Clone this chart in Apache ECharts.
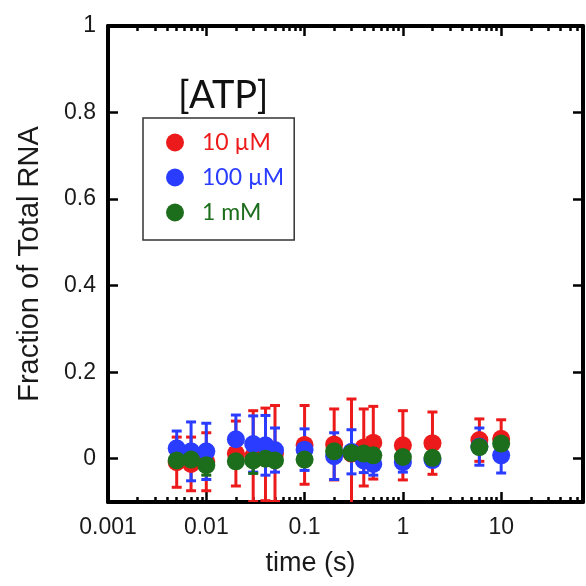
<!DOCTYPE html>
<html>
<head>
<meta charset="utf-8">
<script src="https://cdn.jsdelivr.net/npm/echarts@6/dist/echarts.min.js"></script>
<style>
	html, body { margin: 0; padding: 0; background: #fff; }
	#atpChartContainer { width: 586px; height: 586px; }
</style>
</head>
<body>
<div id="atpChartContainer"></div>
<script>
// time points (s)
var times = [0.005, 0.007, 0.01, 0.02, 0.03, 0.04, 0.05, 0.1, 0.2, 0.3, 0.4, 0.5, 1, 2, 6, 10];

// 10 uM ATP
var red10uM = [-0.008, -0.012, -0.007, 0.012, 0.006, 0.010, 0.012, 0.032, 0.033, 0.012, 0.026, 0.037, 0.031, 0.036, 0.043, 0.046];
var red10uMErr = [0.058, 0.062, 0.067, 0.075, 0.105, 0.107, 0.111, 0.091, 0.082, 0.126, 0.089, 0.084, 0.080, 0.072, 0.049, 0.044];

// 100 uM ATP
var blue100uM = [0.024, 0.017, 0.017, 0.045, 0.034, 0.031, 0.020, 0.021, 0.006, 0.016, -0.004, -0.012, -0.008, -0.003, 0.028, 0.008];
var blue100uMErr = [0.040, 0.068, 0.065, 0.056, 0.065, 0.069, 0.051, 0.048, 0.054, 0.051, 0.028, 0.026, 0.023, 0.012, 0.043, 0.041];

// 1 mM ATP
var green1mM = [-0.004, -0.002, -0.015, -0.006, -0.004, 0.000, -0.004, -0.002, 0.017, 0.013, 0.012, 0.008, 0.004, 0.002, 0.027, 0.035];
var green1mMErr = [0.012, 0.010, 0.023, 0.014, 0.030, 0.011, 0.012, 0.010, 0.012, 0.011, 0.010, 0.011, 0.010, 0.010, 0.012, 0.010];

var seriesNames = ['10 \u00b5M', '100 \u00b5M', '1 mM'];
var seriesColors = ['#ec1a1a', '#2a3cff', '#1c6d1c'];

function pairs(ys) {
	return times.map(function (t, i) { return [t, ys[i]]; });
}

function errTriples(ys, es) {
	return times.map(function (t, i) { return [t, ys[i] - es[i], ys[i] + es[i]]; });
}

// vertical error bar with caps
function renderErrorBar(params, api) {
	var lo = api.coord([api.value(0), api.value(1)]);
	var hi = api.coord([api.value(0), api.value(2)]);
	var cap = 5;
	var style = { stroke: api.visual('color'), lineWidth: 3 };
	return {
		type: 'group',
		children: [
			{ type: 'line', shape: { x1: lo[0], y1: lo[1], x2: hi[0], y2: hi[1] }, style: style },
			{ type: 'line', shape: { x1: lo[0] - cap, y1: lo[1], x2: lo[0] + cap, y2: lo[1] }, style: style },
			{ type: 'line', shape: { x1: hi[0] - cap, y1: hi[1], x2: hi[0] + cap, y2: hi[1] }, style: style }
		]
	};
}

var chartContainer = echarts.init(document.getElementById('atpChartContainer'));

var means = [red10uM, blue100uM, green1mM];
var errs = [red10uMErr, blue100uMErr, green1mMErr];
var series = [];
for (var i = 0; i < 3; i++) {
	series.push({
		name: seriesNames[i] + ' err',
		type: 'custom',
		clip: true,
		itemStyle: { color: seriesColors[i] },
		renderItem: renderErrorBar,
		encode: { x: 0, y: [1, 2] },
		data: errTriples(means[i], errs[i])
	});
	series.push({
		name: seriesNames[i],
		type: 'scatter',
		symbolSize: 18,
		itemStyle: { color: seriesColors[i], opacity: 1 },
		data: pairs(means[i])
	});
}

chartContainer.setOption({
	animation: false,
	title: {
		text: '[ATP]',
		left: 173,
		top: 72,
		textStyle: { fontFamily: 'Lato', fontSize: 38, fontWeight: 'normal', color: '#111' }
	},
	legend: {
		orient: 'vertical',
		left: 143,
		top: 118,
		padding: [13, 10, 16, 23],
		itemGap: 12,
		itemWidth: 18,
		itemHeight: 18,
		borderColor: '#333',
		borderWidth: 1.5,
		textStyle: { fontFamily: 'Lato', fontSize: 23, lineHeight: 18, padding: [0, 0, 0, 13] },
		data: seriesNames.map(function (n, k) {
			return { name: n, icon: 'circle', itemStyle: { color: seriesColors[k] }, textStyle: { color: seriesColors[k] } };
		})
	},
	grid: { left: 108, right: 3, top: 26, bottom: 84 },
	xAxis: [
		{
			type: 'log', min: 0.001, max: 68, position: 'bottom',
			axisLine: { onZero: false, lineStyle: { color: '#000', width: 4 } },
			axisTick: { show: true, inside: true, length: 10, lineStyle: { color: '#000', width: 2.5 } },
			minorTick: { show: true, splitNumber: 9, length: 5, lineStyle: { color: '#000', width: 2.5 } },
			axisLabel: { showMaxLabel: false, margin: 14, fontFamily: 'Liberation Sans', fontSize: 23, color: '#1a1a1a' },
			splitLine: { show: false },
			name: 'time (s)', nameLocation: 'middle', nameGap: 48,
			nameTextStyle: { fontFamily: 'Liberation Sans', fontSize: 27, color: '#1a1a1a', padding: [0, 70, 0, 0] }
		},
		{
			type: 'log', min: 0.001, max: 68, position: 'top',
			axisLine: { onZero: false, lineStyle: { color: '#000', width: 4 } },
			axisTick: { show: true, inside: true, length: 10, lineStyle: { color: '#000', width: 2.5 } },
			minorTick: { show: true, splitNumber: 9, length: 5, lineStyle: { color: '#000', width: 2.5 } },
			axisLabel: { show: false },
			splitLine: { show: false }
		}
	],
	yAxis: [
		{
			type: 'value', min: -0.1, max: 1,
			axisLine: { show: true, onZero: false, lineStyle: { color: '#000', width: 4 } },
			axisTick: { show: true, inside: true, length: 10, lineStyle: { color: '#000', width: 2.5 } },
			axisLabel: { showMinLabel: false, margin: 12, fontFamily: 'Liberation Sans', fontSize: 23, color: '#1a1a1a' },
			splitLine: { show: false },
			name: 'Fraction of Total RNA', nameLocation: 'middle', nameGap: 64,
			nameTextStyle: { fontFamily: 'Liberation Sans', fontSize: 29, color: '#1a1a1a' }
		},
		{
			type: 'value', min: -0.1, max: 1, position: 'right',
			axisLine: { show: true, onZero: false, lineStyle: { color: '#000', width: 4 } },
			axisTick: { show: true, inside: true, length: 10, lineStyle: { color: '#000', width: 2.5 } },
			axisLabel: { show: false },
			splitLine: { show: false }
		}
	],
	series: series
});
</script>
</body>
</html>
